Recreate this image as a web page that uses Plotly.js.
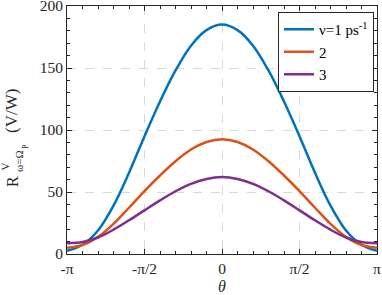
<!DOCTYPE html>
<html>
<head>
<meta charset="utf-8">
<script src="https://cdn.plot.ly/plotly-3.0.1.min.js"></script>
<style>html,body{margin:0;padding:0;background:#fff;}</style>
</head>
<body>
<div id="chart" style="width:382px;height:295px"></div>
<script>
// theta sample points, in units of pi
var thetaOverPi = [-1.0, -0.9, -0.8, -0.7, -0.6, -0.5, -0.4, -0.3, -0.2, -0.1, 0.0,
                   0.1, 0.2, 0.3, 0.4, 0.5, 0.6, 0.7, 0.8, 0.9, 1.0];
var seriesNames = ["\u03bd=1 ps<sup>-1</sup>", "2", "3"];
var nu1 = [2.5, 7.5, 19, 39, 65.5, 95, 123, 148, 168, 180.5, 185,
           180.5, 168, 148, 123, 95, 65.5, 39, 19, 7.5, 2.5];
var nu2 = [5, 7.3, 13.8, 24.3, 37.3, 50.8, 63.3, 74.8, 84.3, 90.3, 92.5,
           90.3, 84.3, 74.8, 63.3, 50.8, 37.3, 24.3, 13.8, 7.3, 5];
var nu3 = [8.6, 9.6, 13.3, 19.6, 27.2, 35.2, 43.2, 50.6, 56.6, 60.5, 62,
           60.5, 56.6, 50.6, 43.2, 35.2, 27.2, 19.6, 13.3, 9.6, 8.6];
var xTickVals = [-1, -0.5, 0, 0.5, 1];
var xTickText = ["-\u03c0", "-\u03c0/2", "0", "\u03c0/2", "\u03c0"];
var yTickVals = [0, 50, 100, 150, 200];

var theta = thetaOverPi.map(function (f) { return f * Math.PI; });
var colors = ["#0072BD", "#D95319", "#7E2F8E"];
var ys = [nu1, nu2, nu3];
var traces = ys.map(function (y, i) {
  return {
    x: theta, y: y, type: "scatter", mode: "lines", name: seriesNames[i],
    line: {color: colors[i], width: 2.5, shape: "spline", smoothing: 1}
  };
});

var minorX = [];
for (var k = -10; k <= 10; k++) minorX.push(k * Math.PI / 10);

var FAM = "Liberation Serif";
function tickFont() { return {family: FAM, size: 15.5, color: "#262626"}; }

function px2x(px) { return (px - 67) / 310; }
function px2y(py) { return (254 - py) / 248; }
function ann(text, px, py, size) {
  return {text: text, xref: "paper", yref: "paper", x: px2x(px), y: px2y(py),
          xanchor: "center", yanchor: "middle", showarrow: false, textangle: -90,
          font: {family: FAM, size: size, color: "#262626"}};
}

var layout = {
  width: 382, height: 295,
  margin: {l: 67, r: 5, t: 6, b: 41},
  paper_bgcolor: "#ffffff", plot_bgcolor: "#ffffff",
  showlegend: true,
  xaxis: {
    range: [-Math.PI, Math.PI], tickmode: "array",
    tickvals: xTickVals.map(function (f) { return f * Math.PI; }), ticktext: xTickText,
    showline: true, linecolor: "#262626", linewidth: 1, mirror: "ticks",
    ticks: "inside", ticklen: 5, tickcolor: "#262626", tickwidth: 1,
    showgrid: true, gridcolor: "#d9d9d9", griddash: "dash", gridwidth: 1,
    zeroline: false, ticklabeloverflow: "allow", tickfont: tickFont(),
    minor: {tickmode: "array", tickvals: minorX, ticks: "inside", ticklen: 3, tickcolor: "#262626", showgrid: false},
    title: {text: "<i>\u03b8</i>", font: {family: FAM, size: 16, color: "#262626"}, standoff: 6}
  },
  yaxis: {
    range: [0, 200], tickmode: "array", tickvals: yTickVals,
    showline: true, linecolor: "#262626", linewidth: 1, mirror: "ticks",
    ticks: "inside", ticklen: 5, tickcolor: "#262626", tickwidth: 1,
    showgrid: true, gridcolor: "#d9d9d9", griddash: "dash", gridwidth: 1,
    zeroline: false, ticklabeloverflow: "allow", tickfont: tickFont(),
    minor: {dtick: 10, ticks: "inside", ticklen: 3, tickcolor: "#262626", showgrid: false}
  },
  legend: {
    x: px2x(374), y: px2y(12), xanchor: "right", yanchor: "top",
    bgcolor: "#ffffff", bordercolor: "#262626", borderwidth: 1,
    font: {family: FAM, size: 15, color: "#000000"},
    tracegroupgap: 0, itemwidth: 30
  },
  annotations: [
    ann("R", 12, 182, 16),
    ann("V", 4.5, 167, 11),
    ann("\u03c9=\u03a9", 19, 161, 11),
    ann("P", 25, 146, 8),
    ann("(V/W)", 12, 111, 17)
  ]
};

Plotly.newPlot("chart", traces, layout, {displayModeBar: false});
</script>
</body>
</html>
